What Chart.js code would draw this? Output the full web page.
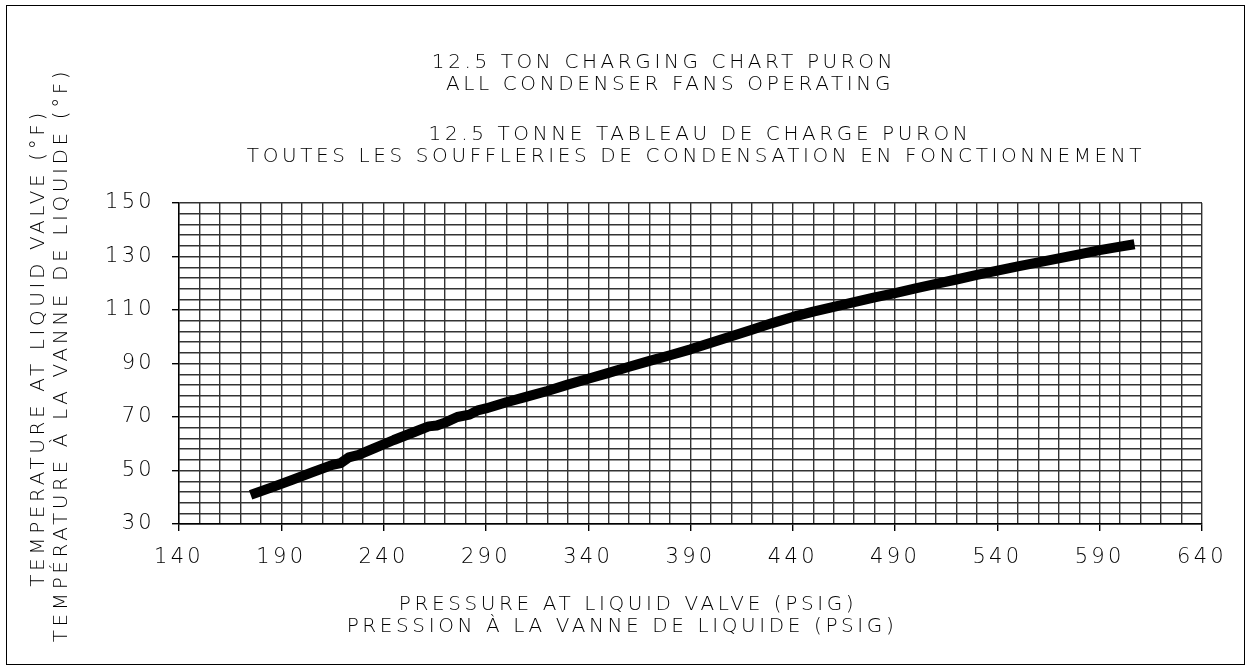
<!DOCTYPE html>
<html>
<head>
<meta charset="utf-8">
<script src="https://cdn.jsdelivr.net/npm/chart.js"></script>
<style>
  html, body { margin: 0; padding: 0; background: #fff; }
</style>
</head>
<body>
<canvas id="chart" width="1252" height="672"></canvas>
<script>
// curve: pressure (psig) -> liquid temperature (F)
const pressure = [175, 185, 195, 205, 215, 219, 223, 228, 235, 245, 255, 262, 266, 270, 276, 282, 286, 290,
  300, 310, 320, 330, 340, 350, 360, 370, 380, 390, 400, 410, 420, 430, 440, 450, 460, 470,
  480, 490, 500, 510, 520, 530, 540, 550, 560, 570, 580, 590, 600, 607];
const temperature = [40.9, 43.6, 46.4, 49.3, 52.1, 52.8, 54.9, 55.9, 58.2, 61.4, 64.4, 66.5, 66.8, 67.9, 70.0, 70.9, 72.5, 73.2,
  75.5, 77.6, 79.7, 82.1, 84.3, 86.5, 88.8, 91.0, 93.1, 95.3, 97.8, 100.2, 102.6, 105.1, 107.4, 109.4, 111.2, 112.9,
  114.7, 116.3, 118.1, 119.8, 121.4, 123.1, 124.7, 126.3, 127.8, 129.3, 130.8, 132.4, 133.7, 134.6];

const xLabels = [140, 190, 240, 290, 340, 390, 440, 490, 540, 590, 640];
const yLabels = [30, 50, 70, 90, 110, 130, 150];

const titleEn = ['12.5 TON CHARGING CHART PURON', 'ALL CONDENSER FANS OPERATING'];
const titleFr = ['12.5 TONNE TABLEAU DE CHARGE PURON', 'TOUTES LES SOUFFLERIES DE CONDENSATION EN FONCTIONNEMENT'];
const xTitle = ['PRESSURE AT LIQUID VALVE (PSIG)', 'PRESSION À LA VANNE DE LIQUIDE (PSIG)'];
const yTitle = ['TEMPERATURE AT LIQUID VALVE (°F)', 'TEMPÉRATURE À LA VANNE DE LIQUIDE (°F)'];

const FAMILY = "'DejaVu Sans', sans-serif";
const SPACING = '3.3px';

const cadText = {
  id: 'cadText',
  beforeDraw(chart) {
    const ctx = chart.ctx;
    ctx.save();
    ctx.fillStyle = '#fff';
    ctx.fillRect(0, 0, chart.width, chart.height);
    ctx.restore();
    ctx.letterSpacing = SPACING;
  },
  afterDraw(chart) {
    const ctx = chart.ctx;
    ctx.save();
    ctx.strokeStyle = '#000';
    ctx.lineWidth = 1;
    ctx.strokeRect(6.5, 5.5, 1238, 659);

    ctx.fillStyle = '#000';
    ctx.font = '200 20px ' + FAMILY;
    ctx.letterSpacing = '3.6px';
    ctx.textAlign = 'center';
    ctx.textBaseline = 'middle';
    ctx.fillText(titleEn[0], 664, 63);
    ctx.fillText(titleEn[1], 670, 85);
    ctx.fillText(titleFr[0], 700, 135);
    ctx.fillText(titleFr[1], 696, 157);

    ctx.fillText(xTitle[0], 628, 605);
    ctx.fillText(xTitle[1], 622, 627);

    ctx.save();
    ctx.translate(39, 348);
    ctx.rotate(-Math.PI / 2);
    ctx.fillText(yTitle[0], 0, 0);
    ctx.restore();
    ctx.save();
    ctx.translate(62, 355);
    ctx.rotate(-Math.PI / 2);
    ctx.fillText(yTitle[1], 0, 0);
    ctx.restore();

    ctx.restore();
  }
};

const tickFont = { family: FAMILY, size: 21, weight: 200 };

new Chart(document.getElementById('chart'), {
  type: 'scatter',
  data: {
    datasets: [{
      data: pressure.map((p, i) => ({ x: p, y: temperature[i] })),
      showLine: true,
      borderColor: '#000',
      borderWidth: 10,
      borderJoinStyle: 'round',
      pointRadius: 0,
      tension: 0
    }]
  },
  options: {
    responsive: false,
    animation: false,
    layout: { padding: { left: 0, top: 203, right: 50, bottom: 0 } },
    plugins: { legend: { display: false }, tooltip: { enabled: false } },
    scales: {
      x: {
        type: 'linear',
        min: 140, max: 640,
        afterFit: s => { s.height = 148; },
        ticks: {
          stepSize: 10, autoSkip: false, maxRotation: 0, padding: 14,
          color: '#000', font: tickFont,
          callback: v => xLabels.includes(v) ? String(v) : ''
        },
        grid: {
          color: '#333', lineWidth: 1.4, tickLength: 7,
          tickColor: c => (c.tick && xLabels.includes(c.tick.value)) ? '#000' : 'rgba(0,0,0,0)'
        },
        border: { color: '#000', width: 1.4 }
      },
      y: {
        min: 30, max: 150,
        afterFit: s => { s.width = 179; },
        ticks: {
          stepSize: 4, autoSkip: false, padding: 17,
          color: '#000', font: tickFont,
          callback: v => yLabels.includes(v) ? String(v) : ''
        },
        grid: {
          color: '#333', lineWidth: 1.4, tickLength: 7,
          tickColor: c => (c.tick && yLabels.includes(c.tick.value)) ? '#000' : 'rgba(0,0,0,0)'
        },
        border: { color: '#000', width: 1.4 }
      }
    }
  },
  plugins: [cadText]
});
</script>
</body>
</html>
